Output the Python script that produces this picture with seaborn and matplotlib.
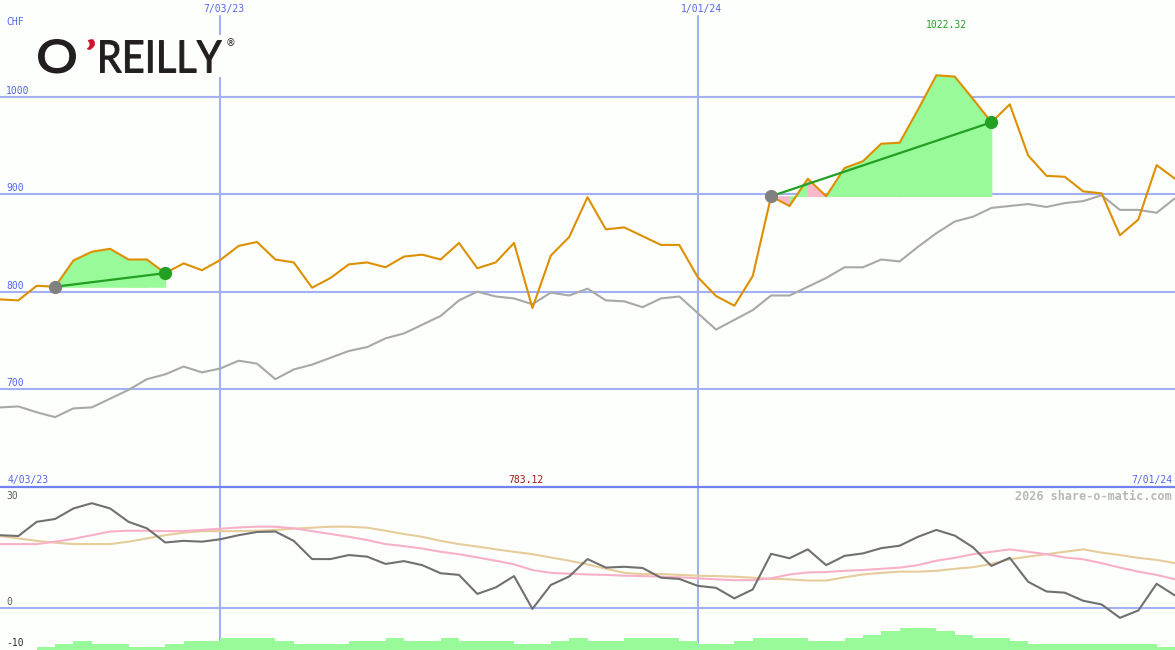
import numpy as np
import pandas as pd
import seaborn as sns
import matplotlib.pyplot as plt
from matplotlib.lines import Line2D
from matplotlib.patches import Rectangle, PathPatch
from matplotlib.textpath import TextPath
from matplotlib.font_manager import FontProperties
from matplotlib.transforms import Affine2D

# weekly closes, CHF
weeks = pd.date_range("2023-04-10", "2024-07-01", freq="7D")
price = [792, 791, 806, 805, 832, 841, 844, 833, 833, 819,
         829, 822, 832.5, 847, 851, 833, 830, 804, 814, 828,
         830, 825, 836, 838, 833, 850, 824, 830, 850, 783.12,
         837, 856, 897, 864, 866, 857, 848, 848, 815, 795.5,
         785.5, 816, 898, 888, 916, 898, 927, 934, 952, 953,
         987, 1022.32, 1021, 998, 974, 992.5, 940, 919, 918, 903,
         901, 858, 874, 930, 916]
bench = [681, 682, 676, 671, 680, 681, 690, 699, 710, 715,
         723, 717, 721, 729, 726, 710, 720, 725, 732, 739,
         743, 752, 757, 766, 775, 791, 800, 795, 793, 787,
         799, 796, 803, 791, 790, 784, 793, 795, 778, 761,
         771, 781, 796, 796, 805, 814, 825, 825, 833, 831,
         846, 860, 872, 877, 886, 888, 890, 887, 891, 893,
         899, 884, 884, 881, 896]

# lower panel indicator
osc = [17.9, 17.7, 21.2, 21.9, 24.5, 25.8, 24.5, 21.2, 19.6, 16.1,
       16.5, 16.3, 16.9, 17.9, 18.7, 18.8, 16.5, 12.0, 12.0, 13.0,
       12.6, 10.8, 11.5, 10.5, 8.5, 8.1, 3.4, 5.0, 7.8, -0.3,
       5.6, 7.7, 12.0, 9.9, 10.1, 9.8, 7.4, 7.1, 5.4, 4.9,
       2.3, 4.5, 13.3, 12.2, 14.4, 10.5, 12.8, 13.4, 14.7, 15.3,
       17.5, 19.2, 17.8, 14.9, 10.3, 12.3, 6.4, 4.0, 3.7, 1.7,
       0.8, -2.5, -0.7, 5.9, 3.0]
osc_fast = [15.7, 15.7, 15.7, 16.3, 17.0, 17.9, 18.8, 19.0, 19.0, 18.9,
            18.9, 19.2, 19.5, 19.8, 20.0, 20.0, 19.6, 18.9, 18.2, 17.5,
            16.7, 15.7, 15.2, 14.6, 13.8, 13.2, 12.4, 11.6, 10.7, 9.3,
            8.6, 8.4, 8.2, 8.1, 7.9, 7.8, 7.65, 7.5, 7.25, 7.0,
            6.8, 6.8, 7.25, 8.2, 8.7, 8.8, 9.1, 9.3, 9.6, 9.9,
            10.5, 11.6, 12.3, 13.2, 13.8, 14.4, 13.8, 13.2, 12.4, 11.95,
            11.0, 9.9, 8.9, 8.1, 7.0]
osc_slow = [17.7, 17.1, 16.5, 16.05, 15.7, 15.7, 15.7, 16.3, 17.1, 17.9,
            18.5, 18.9, 18.9, 18.9, 19.0, 19.2, 19.5, 19.75, 20.0, 20.0,
            19.75, 19.0, 18.2, 17.5, 16.5, 15.7, 15.1, 14.4, 13.8, 13.2,
            12.4, 11.6, 10.7, 9.6, 8.6, 8.3, 8.3, 8.1, 7.9, 7.8,
            7.65, 7.4, 7.1, 7.0, 6.7, 6.7, 7.5, 8.2, 8.6, 8.9,
            8.9, 9.1, 9.6, 10.0, 10.8, 11.95, 12.6, 13.2, 13.8, 14.4,
            13.6, 13.0, 12.3, 11.8, 11.0]
volume = [0, 0, 0.9, 1.9, 2.9, 1.9, 1.9, 0.9, 0.9, 1.9,
          2.9, 2.9, 3.8, 3.8, 3.8, 2.9, 1.9, 1.9, 1.9, 2.9,
          2.9, 3.8, 2.9, 2.9, 3.8, 2.9, 2.9, 2.9, 1.9, 1.9,
          2.9, 3.8, 2.9, 2.9, 3.8, 3.8, 3.8, 2.9, 1.9, 1.9,
          2.9, 3.8, 3.8, 3.8, 2.9, 2.9, 3.8, 4.8, 6.1, 7.0,
          7.0, 6.1, 4.8, 3.8, 3.8, 2.9, 1.9, 1.9, 1.9, 1.9,
          1.9, 1.9, 1.9, 0.9, 0]

trades = [(3, 9), (42, 54)]   # entry / exit week index
price_grid = [700, 800, 900, 1000]
osc_grid = [0]
date_marks = ["2023-07-03", "2024-01-01"]
date_labels = ["7/03/23", "1/01/24"]

sns.set_style("white")
plt.rcParams["font.family"] = ["DejaVu Sans Mono"]

W, H = 1175, 650
split = 487
bg = "#fcfffc"
grid_c = "#a3b1f2"
lab_c = "#5566ee"
green_fill = "#98fa98"
pink_fill = "#fbb8cc"

fig = plt.figure(figsize=(W / 100, H / 100), dpi=100, facecolor=bg)
ax = fig.add_axes([0, (H - split) / H, 1, split / H])
axl = fig.add_axes([0, 0, 1, (H - split) / H])
for a in (ax, axl):
    a.set_facecolor("none")
    a.set_xlim(weeks[0], weeks[-1])

ax.set_ylim(599.2, 1099.7)
axl.set_ylim(-10.45, 29.8)

df = pd.DataFrame({"week": weeks, "price": price, "bench": bench,
                   "osc": osc, "fast": osc_fast, "slow": osc_slow})

# grid
for g in price_grid:
    ax.axhline(g, color=grid_c, lw=1.5, zorder=0)
    ax.annotate(str(g), xy=(0, g), xycoords=("axes fraction", "data"),
                xytext=(6, 3), textcoords="offset pixels", va="baseline",
                fontsize=7, color=lab_c)
for g in osc_grid:
    axl.axhline(g, color=grid_c, lw=1.5, zorder=0)
for d, lab in zip(date_marks, date_labels):
    ax.axvline(pd.Timestamp(d), ymax=(split - 16) / split, color=grid_c, lw=1.5, zorder=0)
    axl.axvline(pd.Timestamp(d), color=grid_c, lw=1.5, zorder=0)
    ax.annotate(lab, xy=(pd.Timestamp(d), 1), xycoords=("data", "axes fraction"),
                xytext=(4, -12), textcoords="offset pixels", ha="center",
                va="baseline", fontsize=7, color=lab_c)

# trade fills and trend lines
p = np.array(price)
for a, b in trades:
    base = p[a]
    for k in range(a, b):
        trend_end = p[a] + (p[b] - p[a]) * (k + 1 - a) / (b - a)
        col = green_fill if p[k + 1] >= trend_end - 1e-9 else pink_fill
        ax.fill_between(weeks[k:k + 2], p[k:k + 2], base, facecolor=col,
                        edgecolor=col, lw=0.6, zorder=1)
    ax.plot([weeks[a], weeks[b]], [p[a], p[b]], color="#22a022", lw=1.6, zorder=4)
    ax.plot(weeks[a], p[a], "o", color="#808080", ms=8.5, zorder=5)
    ax.plot(weeks[b], p[b], "o", color="#22a022", ms=8.5, zorder=5)

sns.lineplot(data=df, x="week", y="bench", ax=ax, color="#a8a8a8", lw=1.5, zorder=2)
sns.lineplot(data=df, x="week", y="price", ax=ax, color="#dd8f00", lw=1.5, zorder=3)

# lower panel
sns.lineplot(data=df, x="week", y="slow", ax=axl, color="#e6cc9a", lw=1.5, zorder=2)
sns.lineplot(data=df, x="week", y="fast", ax=axl, color="#f8b0c8", lw=1.5, zorder=2)
sns.lineplot(data=df, x="week", y="osc", ax=axl, color="#707070", lw=1.5, zorder=3)
for a in (ax, axl):
    a.set_axis_off()

axv = axl.twinx()
axv.set_axis_off()
axv.set_ylim(0, (H - split) / 3.1)
axv.bar(weeks, volume, width=7, align="edge", color=green_fill, lw=0)
axv.set_xlim(weeks[0], weeks[-1])

# panel separator
fig.add_artist(Line2D([0, 1], [(H - split) / H] * 2, transform=fig.transFigure,
                      color="#7282f0", lw=1.6))


def ftext(x, y, s, **kw):
    kw.setdefault("fontsize", 7)
    kw.setdefault("va", "baseline")
    return fig.text(x / W, 1 - y / H, s, **kw)


ftext(6, 25, "CHF", color=lab_c)
ftext(7, 482.7, "4/03/23", color=lab_c)
ftext(1172, 482.7, "7/01/24", color=lab_c, ha="right")

imin, imax = int(np.argmin(p)), int(np.argmax(p))
ax.annotate(f"{p[imax]:.2f}", xy=(weeks[imax], 1), xycoords=("data", "axes fraction"),
            xytext=(10, -27.5), textcoords="offset pixels", ha="center",
            va="baseline", fontsize=7, color="#22a022")
ax.annotate(f"{p[imin]:.2f}", xy=(weeks[imin], 0), xycoords=("data", "axes fraction"),
            xytext=(-6, 4.3), textcoords="offset pixels", ha="center",
            va="baseline", fontsize=7, color="#a01818")

axl.annotate("30", xy=(0, 1), xycoords="axes fraction", xytext=(6, -12),
             textcoords="offset pixels", va="baseline", fontsize=7, color="#606060")
axl.annotate("0", xy=(0, 0), xycoords=("axes fraction", "data"), xytext=(6, 2.5),
             textcoords="offset pixels", va="baseline", fontsize=7, color="#606060")
axl.annotate("-10", xy=(0, -10), xycoords=("axes fraction", "data"), xytext=(6, 2.5),
             textcoords="offset pixels", va="baseline", fontsize=7, color="#303030")
ftext(1172, 500, "2026 share-o-matic.com", color="#b8b8b8", ha="right",
      fontsize=8.5, fontweight="bold")

# logo: glyph outlines fitted into boxes (pixels from top-left)
fig.add_artist(Rectangle((30 / W, 1 - 77 / H), 206 / W, 42 / H, transform=fig.transFigure,
                         facecolor=bg, edgecolor="none", zorder=2))
logo_font = FontProperties(family="Lato")


def logo_piece(s, x0, x1, ytop, ybot, color, grow=0.7):
    path = TextPath((0, 0), s, size=46, prop=logo_font)
    ext = path.get_extents()
    g = grow * 100 / 72 / 2  # outline stroke thickens each side
    sx = (x1 - x0 - 2 * g) / ext.width
    sy = (ybot - ytop - 2 * g) / ext.height
    tr = (Affine2D().translate(-ext.x0, -ext.y0).scale(sx, sy)
          .translate(x0 + g, H - ybot + g))
    fig.add_artist(PathPatch(path, transform=tr, facecolor=color,
                             edgecolor=color, lw=grow, zorder=3))


logo_piece("O", 38, 76, 39, 73.5, "#231f20", grow=1.2)
logo_piece("\u2019", 87, 95, 39, 50, "#d0102c", grow=0.3)
logo_piece("REILLY", 100, 222, 40, 73, "#231f20")
ftext(226, 46, "\u00ae", color="#231f20", fontsize=7, family=["DejaVu Sans"], zorder=3)

fig.savefig("out.png", dpi=100, facecolor=bg)
